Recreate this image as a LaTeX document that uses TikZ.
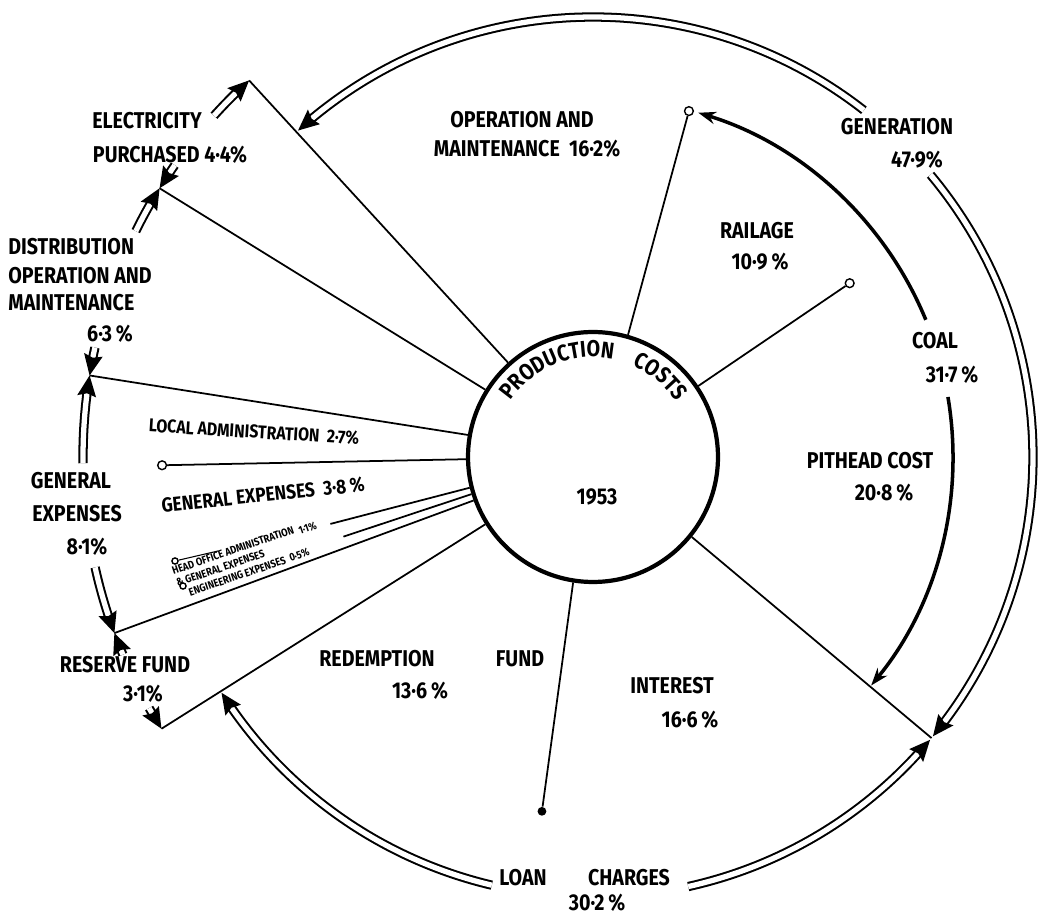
\documentclass[tikz,border=0pt]{standalone}
\usepackage{fontspec}
\newfontfamily\lettering{Fira Sans}[FakeStretch=0.86]
\usetikzlibrary{arrows.meta,calc,decorations.text}

% double arc round C with a solid head: radius, start, end
\newcommand{\darc}[3]{%
  \pgfmathsetmacro{\dsg}{#3>#2 ? 1 : -1}%
  \pgfmathsetmacro{\dpa}{#3-\dsg*15/#1*57.2958}%
  \pgfmathsetmacro{\dpn}{#3-\dsg*18/#1*57.2958}%
  \pgfmathsetmacro{\dpb}{#3-\dsg*21/#1*57.2958}%
  \pgfmathsetmacro{\dro}{#1+9.5}%
  \pgfmathsetmacro{\dri}{#1-9.5}%
  \draw[dbl] ($(C)+(#2:#1)$) arc[start angle=#2, end angle=\dpa, radius=#1];
  \fill ($(C)+(#3:#1)$) -- ($(C)+(\dpb:\dro)$) -- ($(C)+(\dpn:#1)$)
    -- ($(C)+(\dpb:\dri)$) -- cycle;
}

\begin{document}
\begin{tikzpicture}[x=0.02cm, y=0.02cm,
  ring/.style={draw, circle, line width=2.4pt, minimum size=5cm, inner sep=0pt},
  spoke/.style={line width=1pt},
  coal/.style={line width=2pt, -{Stealth[length=10pt,width=7pt]}},
  dbl/.style={double, double distance=3pt, line width=1.15pt},
  lbl/.style={font=\lettering\bfseries\fontsize{13}{15}\selectfont, inner sep=0pt},
  sml/.style={font=\lettering\bfseries\fontsize{10.5}{12}\selectfont, inner sep=0pt},
  tny/.style={font=\lettering\bfseries\fontsize{6.2}{7.4}\selectfont, inner sep=0pt, rotate=19, align=left},
  pin/.style={draw, circle, line width=0.8pt, inner sep=0pt, minimum size=5pt, fill=white},
  blob/.style={circle, fill, inner sep=0pt, minimum size=5pt},
]
\useasboundingbox (0,0) rectangle (1039,917);

% centre ring
\coordinate (C) at (593,460);
\node[ring] (pc) at (C) {};
\path[decorate, decoration={text along path, text align=center,
  text={|\lettering\bfseries\fontsize{13}{15}\selectfont|PRODUCTION}}]
  ($(C)+(150:100)$) arc[start angle=150, end angle=74, radius=100];
\path[decorate, decoration={text along path, text align=center,
  text={|\lettering\bfseries\fontsize{13}{15}\selectfont|COSTS}}]
  ($(C)+(68:100)$) arc[start angle=68, end angle=32, radius=100];
\node[lbl] (yr) at (597,420) {1953};

% spoke ends
\coordinate (elec) at ($(C)+(132.4:510)$);
\coordinate (dist) at ($(C)+(148.2:510)$);
\coordinate (genx) at ($(C)+(170.8:510)$);
\coordinate (resv) at ($(C)+(200.2:510)$);
\coordinate (redm) at ($(C)+(212.2:510)$);
\coordinate (hoa) at ($(C)+(194.3:271)$);
\coordinate (eng) at ($(C)+(197.7:262)$);
\coordinate (intr) at ($(C)+(-39.7:440)$);
\node[pin] (loc) at ($(C)+(181.1:431)$) {};
\node[pin] (rail) at ($(C)+(34.1:310)$) {};
\node[pin] (opm) at ($(C)+(74.5:359)$) {};
\node[blob] (fund) at ($(C)+(261.8:358)$) {};

% spokes
\draw[spoke] (pc.132.4) -- (elec);
\draw[spoke] (pc.148.2) -- (dist);
\draw[spoke] (pc.170.8) -- (genx);
\draw[spoke] (pc.181.5) -- (loc);
\draw[spoke] (pc.194.3) -- (hoa);
\draw[spoke] (pc.197.7) -- (eng);
\draw[spoke] (pc.200.2) -- (resv);
\draw[spoke] (pc.212.2) -- (redm);
\draw[spoke] (pc.261.8) -- (fund);
\draw[spoke] (pc.-39.7) -- (intr);
\draw[spoke] (pc.34.1) -- (rail);
\draw[spoke] (pc.74.5) -- (opm);

% coal
\draw[coal] ($(C)+(22.4:360)$) arc[start angle=22.4, end angle=73, radius=360];
\draw[coal] ($(C)+(9.6:360)$) arc[start angle=9.6, end angle=-39.4, radius=360];

% generation and loan charges
\darc{440}{52}{132.1}
\darc{440}{39.9}{-39.4}
\darc{440}{-77.5}{-40}
\darc{440}{-103.3}{-147.6}

% left hand chain
\darc{510}{138}{132.4}
\darc{510}{145.1}{148.2}
\darc{510}{153.7}{148.2}
\darc{510}{167.6}{170.8}
\darc{510}{180.7}{170.8}
\darc{510}{192.5}{200.2}
\darc{510}{202.8}{200.2}
\darc{510}{209.5}{212.2}

% labels
\node[lbl] (l-elec) at (147,796) {ELECTRICITY};
\node[lbl] (l-purch) at (170,762) {PURCHASED 4·4\%};
\node[lbl, anchor=west] (l-dist) at (8,670) {DISTRIBUTION};
\node[lbl, anchor=west] (l-dop) at (8,641) {OPERATION AND};
\node[lbl, anchor=west] (l-dmt) at (8,614) {MAINTENANCE};
\node[lbl] (l-dpc) at (110,583) {6·3\,\%};
\node[lbl] (l-gen) at (71,436) {GENERAL};
\node[lbl] (l-exp) at (77,403) {EXPENSES};
\node[lbl] (l-gpc) at (87,370) {8·1\%};
\node[lbl] (l-res) at (125,252) {RESERVE FUND};
\node[lbl] (l-rpc) at (143,223) {3·1\%};
\node[lbl] (l-red) at (377,258) {REDEMPTION};
\node[lbl] (l-fund) at (520,258) {FUND};
\node[lbl] (l-fpc) at (420,226) {13·6\,\%};
\node[lbl] (l-int) at (672,231) {INTEREST};
\node[lbl] (l-ipc) at (690,197) {16·6\,\%};
\node[lbl] (l-loan) at (523,39) {LOAN};
\node[lbl] (l-chg) at (629,39) {CHARGES};
\node[lbl] (l-lpc) at (597,14) {30·2\,\%};
\node[lbl] (l-pit) at (870,456) {PITHEAD COST};
\node[lbl] (l-ppc) at (884,424) {20·8\,\%};
\node[lbl] (l-coal) at (935,576) {COAL};
\node[lbl] (l-cpc) at (952,542) {31·7\,\%};
\node[lbl] (l-gnr) at (897,790) {GENERATION};
\node[lbl] (l-gnpc) at (917,757) {47·9\%};
\node[lbl] (l-rail) at (757,686) {RAILAGE};
\node[lbl] (l-rlpc) at (760,655) {10·9\,\%};
\node[lbl] (l-op) at (522,797) {OPERATION AND};
\node[lbl] (l-mt) at (527,768) {MAINTENANCE \ 16·2\%};

% small print on the left
\node[sml, rotate=-3.5] (l-loc) at (254,485) {LOCAL ADMINISTRATION \ 2·7\%};
\node[sml, rotate=6, font=\lettering\bfseries\fontsize{11.5}{13}\selectfont] (l-gex) at (263,422) {GENERAL EXPENSES \ 3·8\,\%};
\node[tny] (l-hoa) at (248,358) {HEAD OFFICE ADMINISTRATION \ \raisebox{-2pt}{1·1\%}\\
  \& GENERAL EXPENSES\\
  \hspace*{5pt}ENGINEERING EXPENSES \ 0·5\%};
\node[pin, minimum size=3.5pt] (p-hoa) at (175,356) {};
\node[pin, minimum size=3.5pt] (p-eng) at (183,331) {};
\coordinate (u-hoa) at (218,366);
\draw[line width=0.6pt] (p-hoa) -- (u-hoa);

\end{tikzpicture}
\end{document}
